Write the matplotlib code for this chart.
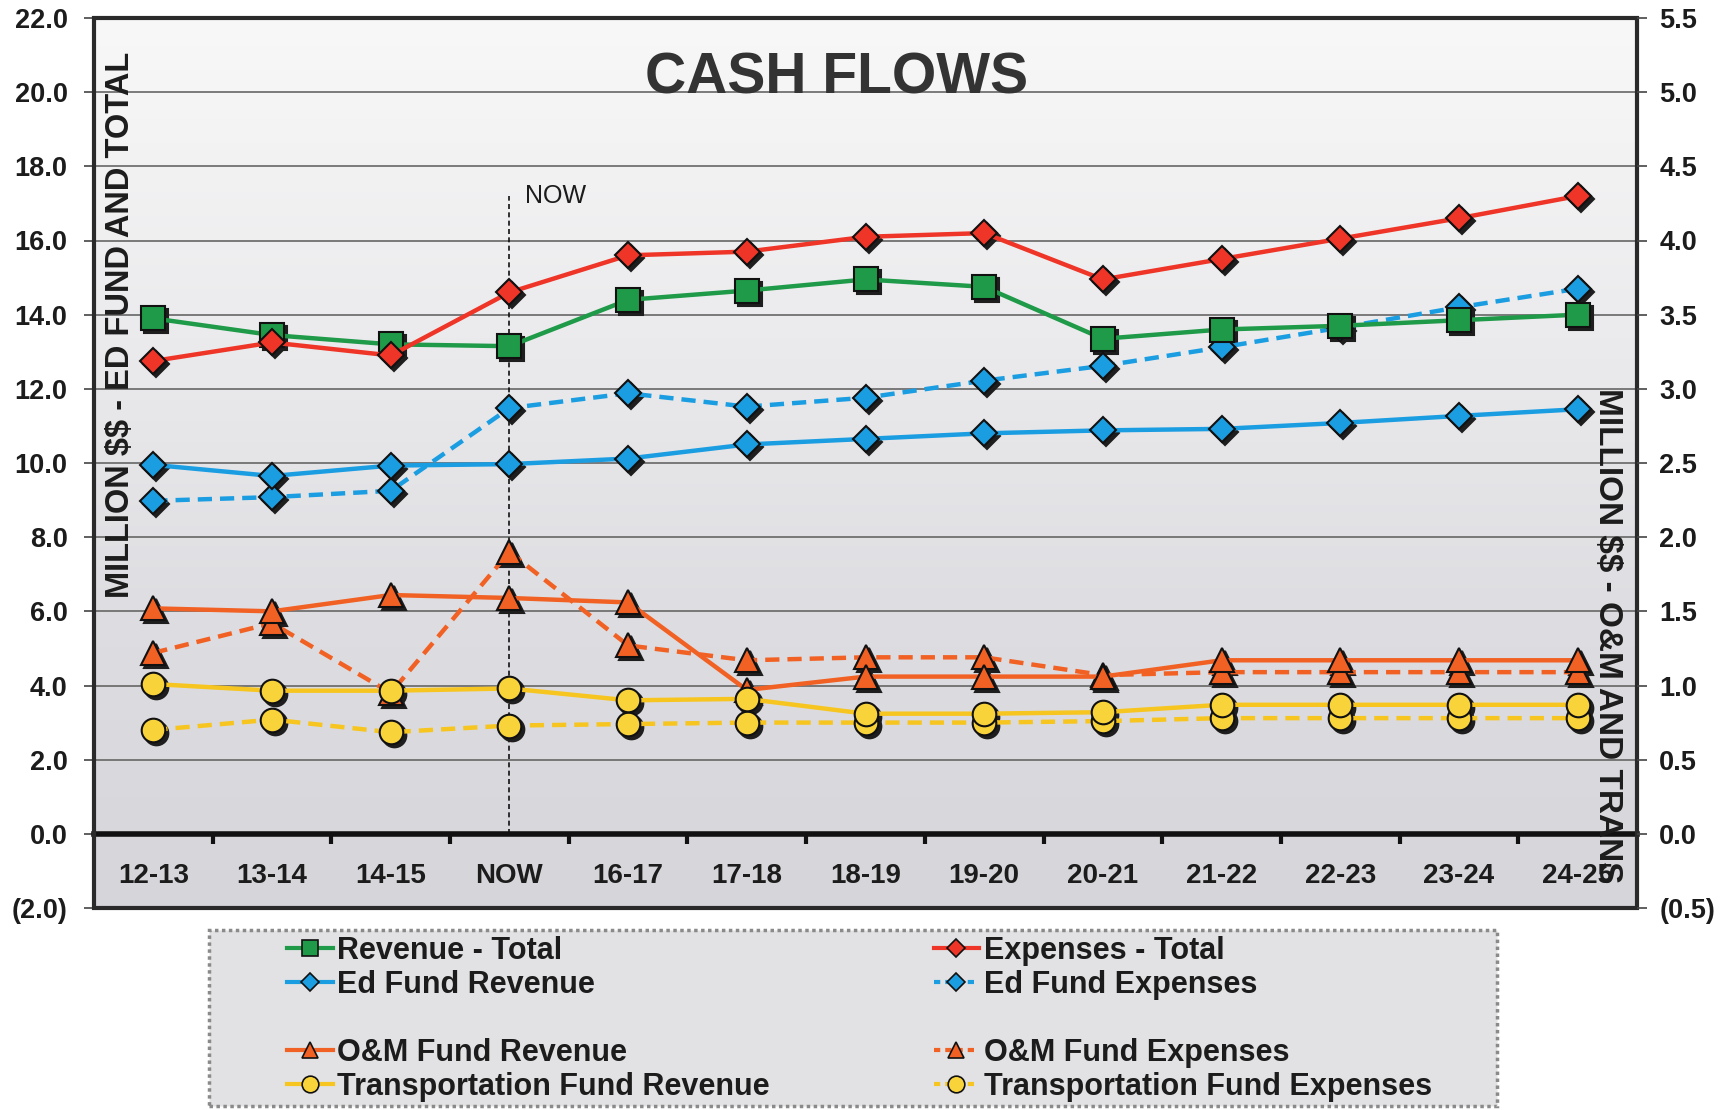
import matplotlib
matplotlib.use('Agg')
import matplotlib.pyplot as plt
import numpy as np
from matplotlib.lines import Line2D
from matplotlib.patches import Rectangle
from matplotlib.transforms import offset_copy
from matplotlib.ticker import FuncFormatter, FixedLocator
from matplotlib.colors import LinearSegmentedColormap

plt.rcParams['font.family'] = ['Liberation Sans', 'DejaVu Sans']
plt.rcParams['text.parse_math'] = False

# ---------------- data ----------------
categories = ['12-13', '13-14', '14-15', 'NOW', '16-17', '17-18', '18-19',
              '19-20', '20-21', '21-22', '22-23', '23-24', '24-25']

# left axis (million $) - Ed fund and total
revenue_total = [13.9, 13.45, 13.2, 13.15, 14.4, 14.65, 14.95, 14.75, 13.35, 13.6, 13.7, 13.85, 14.0]
expenses_total = [12.75, 13.25, 12.9, 14.6, 15.6, 15.7, 16.1, 16.2, 14.95, 15.5, 16.05, 16.6, 17.2]
ed_fund_revenue = [9.95, 9.65, 9.93, 9.97, 10.12, 10.5, 10.65, 10.8, 10.88, 10.92, 11.08, 11.27, 11.45]
ed_fund_expenses = [8.98, 9.08, 9.25, 11.48, 11.88, 11.52, 11.76, 12.22, 12.62, 13.12, 13.65, 14.2, 14.7]

# right axis (million $) - O&M and transportation
om_fund_revenue = [1.52, 1.50, 1.61, 1.59, 1.56, 0.97, 1.06, 1.06, 1.06, 1.17, 1.17, 1.17, 1.17]
om_fund_expenses = [1.22, 1.42, 0.95, 1.90, 1.27, 1.17, 1.19, 1.19, 1.07, 1.09, 1.09, 1.09, 1.09]
trans_fund_revenue = [1.01, 0.965, 0.965, 0.98, 0.90, 0.91, 0.81, 0.81, 0.82, 0.87, 0.87, 0.87, 0.87]
trans_fund_expenses = [0.70, 0.77, 0.685, 0.73, 0.74, 0.75, 0.75, 0.75, 0.76, 0.78, 0.78, 0.78, 0.78]

left_ticks = list(range(-2, 23, 2))
right_ticks = [-0.5, 0.0, 0.5, 1.0, 1.5, 2.0, 2.5, 3.0, 3.5, 4.0, 4.5, 5.0, 5.5]
now_index = 3
now_top = 17.2

# ---------------- styles ----------------
GREEN = '#1f9a48'
RED = '#ee3527'
BLUE = '#1b9de2'
ORANGE = '#f26124'
YELLOW = '#f7c520'
YELLOW_M = '#f9d33a'
TXT = '#1c1c1c'

W, H = 1726, 1110
fig = plt.figure(figsize=(W / 100, H / 100), dpi=100)
fig.patch.set_facecolor('white')

ax_l, ax_r, ax_t, ax_b = 94, 1637, 18, 908
ax = fig.add_axes([ax_l / W, 1 - ax_b / H, (ax_r - ax_l) / W, (ax_b - ax_t) / H])
ax2 = ax.twinx()

x = np.arange(len(categories))

# background gradient
cmap = LinearSegmentedColormap.from_list('bg', ['#d6d6da', '#dedee2', '#ececee', '#f8f8f8'])
grad = np.linspace(0, 1, 256).reshape(-1, 1)
ax.imshow(grad, extent=[-0.5, 12.5, -2, 22], origin='lower', aspect='auto',
          cmap=cmap, zorder=0)

ax.set_xlim(-0.5, 12.5)
ax.set_ylim(-2, 22)
ax2.set_ylim(-0.5, 5.5)
ax.set_axisbelow(True)
ax.yaxis.grid(True, color='#666666', lw=1.2)

def draw_series(a, vals, color, mcolor, marker, ms, ls):
    shadow_tr = offset_copy(a.transData, fig=fig, x=3, y=-3, units='dots')
    a.plot(x, vals, ls='none', marker=marker, ms=ms, mfc='#1e1e1e', mec='#1e1e1e',
           mew=1.5, transform=shadow_tr, zorder=3)
    kw = dict(color=color, lw=3.2, marker=marker, ms=ms, mfc=mcolor, mec='#111111',
              mew=1.5, zorder=4)
    if ls == 'dash':
        kw['dashes'] = (3.2, 1.8)
    a.plot(x, vals, **kw)

draw_series(ax, ed_fund_expenses, BLUE, BLUE, 'D', 13, 'dash')
draw_series(ax, ed_fund_revenue, BLUE, BLUE, 'D', 13, 'solid')
draw_series(ax, revenue_total, GREEN, GREEN, 's', 17, 'solid')
draw_series(ax, expenses_total, RED, RED, 'D', 13, 'solid')

draw_series(ax2, om_fund_expenses, ORANGE, ORANGE, '^', 17, 'dash')
draw_series(ax2, om_fund_revenue, ORANGE, ORANGE, '^', 17, 'solid')
draw_series(ax2, trans_fund_expenses, YELLOW, YELLOW_M, 'o', 17, 'dash')
draw_series(ax2, trans_fund_revenue, YELLOW, YELLOW_M, 'o', 17, 'solid')

# NOW marker line
ax.plot([now_index, now_index], [0, now_top], color='#111111', lw=1.2, ls=(0, (3, 2)), zorder=2)
ax.text(now_index + 0.13, now_top, 'NOW', fontsize=18, color=TXT, va='center', ha='left')

# spines / frame
for a in (ax, ax2):
    for s in a.spines.values():
        s.set_visible(False)
ax.spines['bottom'].set_visible(True)
ax.spines['bottom'].set_position(('data', 0))
ax.spines['bottom'].set_linewidth(4)
ax.spines['bottom'].set_color('#111111')
ax.spines['bottom'].set_zorder(5)
ax.add_patch(Rectangle((0, 0), 1, 1, transform=ax.transAxes, fill=False,
                       lw=3, ec='#2a2a2a', clip_on=False, zorder=10))

# x ticks (category labels under zero line)
ax.set_xticks(x)
ax.set_xticklabels(categories)
ax.xaxis.set_minor_locator(FixedLocator(np.arange(0.5, 12, 1)))
ax.tick_params(axis='x', which='major', length=0, pad=21, labelsize=20, labelcolor=TXT)
ax.tick_params(axis='x', which='minor', length=7, width=3, direction='out', color='#111111')
for lab in ax.get_xticklabels():
    lab.set_fontweight('bold')

# left y ticks
fmt_l = FuncFormatter(lambda v, p: f'({abs(v):.1f})' if v < 0 else f'{v:.1f}')
ax.set_yticks(left_ticks)
ax.yaxis.set_major_formatter(fmt_l)
ax.tick_params(axis='y', length=7, width=1.2, color='#444444', pad=12, labelsize=19.5, labelcolor=TXT)
for lab in ax.get_yticklabels():
    lab.set_fontweight('bold')

# right y ticks
fmt_r = FuncFormatter(lambda v, p: f'({abs(v):.1f})' if v < 0 else f'{v:.1f}')
ax2.set_yticks(right_ticks)
ax2.yaxis.set_major_formatter(fmt_r)
ax2.tick_params(axis='y', length=7, width=1.2, color='#444444', pad=9, labelsize=19.5, labelcolor=TXT)
for lab in ax2.get_yticklabels():
    lab.set_fontweight('bold')

# titles / axis labels
fig.text(837 / W, 1 - 79 / H, 'CASH FLOWS', fontsize=41, fontweight='bold',
         color='#333333', ha='center', va='center')
fig.text(120 / W, 1 - 325 / H, 'MILLION $$ - ED FUND AND TOTAL', fontsize=23.5,
         fontweight='bold', color=TXT, rotation=90, ha='center', va='center')
fig.text(1607 / W, 1 - 636 / H, 'MILLION $$ - O&M AND TRANS', fontsize=24,
         fontweight='bold', color=TXT, rotation=270, ha='center', va='center', zorder=20)

# legend box
fig.patches.append(Rectangle((209 / W, 1 - 1106 / H), 1288 / W, 176 / H,
                             transform=fig.transFigure, facecolor='#e2e2e4',
                             edgecolor='#8a8a8a', lw=2.5, ls=(0, (1, 1)), zorder=0))

def h(color, mcolor, marker, ms, ls):
    kw = dict(color=color, lw=3, marker=marker, ms=ms, mfc=mcolor, mec='#111111', mew=1.2)
    if ls == 'dash':
        kw['dashes'] = (1.5, 1.2)
    return Line2D([], [], **kw)

blank = Line2D([], [], color='none')
handles = [h(GREEN, GREEN, 's', 12, 'solid'), h(BLUE, BLUE, 'D', 9, 'solid'), blank,
           h(ORANGE, ORANGE, '^', 12, 'solid'), h(YELLOW, YELLOW_M, 'o', 12, 'solid'),
           h(RED, RED, 'D', 9, 'solid'), h(BLUE, BLUE, 'D', 9, 'dash'), blank,
           h(ORANGE, ORANGE, '^', 12, 'dash'), h(YELLOW, YELLOW_M, 'o', 12, 'dash')]
labels = ['Revenue - Total', 'Ed Fund Revenue', ' ', 'O&M Fund Revenue',
          'Transportation Fund Revenue', 'Expenses - Total', 'Ed Fund Expenses', ' ',
          'O&M Fund Expenses', 'Transportation Fund Expenses']
leg = fig.legend(handles, labels, ncol=2, loc='upper left',
                 bbox_to_anchor=(287 / W, 1 - 936 / H), frameon=False,
                 prop={'weight': 'bold', 'size': 22}, handlelength=1.5,
                 handletextpad=0.15, columnspacing=5.35, labelspacing=0.13,
                 borderpad=0, borderaxespad=0)
for t in leg.get_texts():
    t.set_color(TXT)

fig.savefig('out.png', dpi=100)
